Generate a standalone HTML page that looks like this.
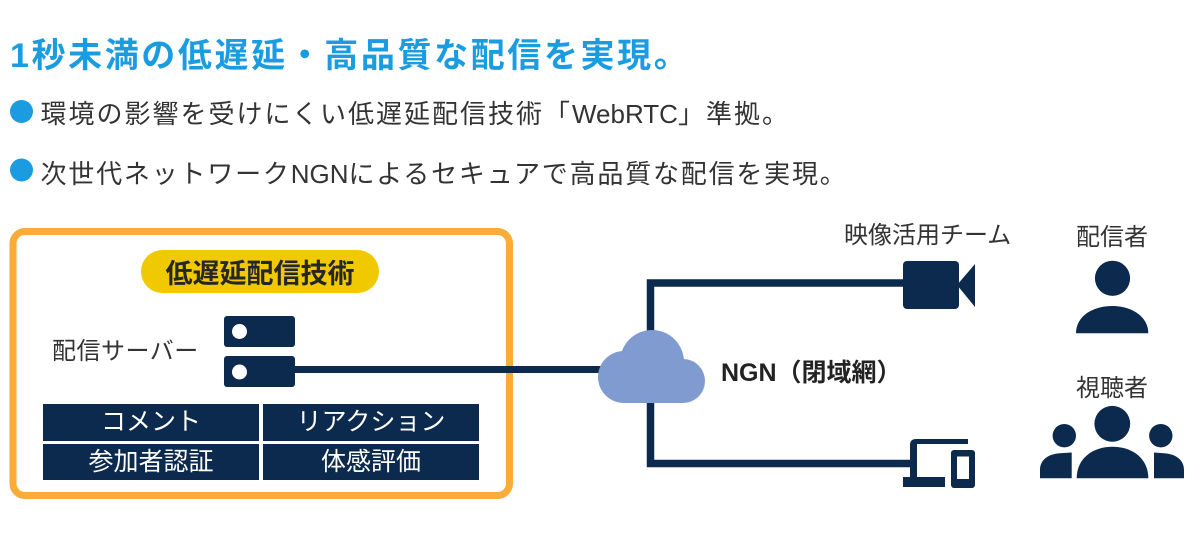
<!DOCTYPE html>
<html>
<head>
<meta charset="utf-8">
<style>
  html,body{margin:0;padding:0;background:#fff;}
  body{width:1200px;height:539px;position:relative;overflow:hidden;}
  .t{position:absolute;white-space:nowrap;font-family:"Liberation Sans","Noto Sans CJK JP",sans-serif;color:#333;}
  svg{position:absolute;left:0;top:0;}
</style>
</head>
<body>
<svg width="1200" height="539" viewBox="0 0 1200 539">
  <!-- bullets -->
  <circle cx="21.5" cy="111.5" r="11.5" fill="#1b9ce0"/>
  <circle cx="21.5" cy="170" r="11.5" fill="#1b9ce0"/>

  <!-- orange box -->
  <rect x="13" y="231.5" width="496.5" height="264" rx="12" ry="12" fill="none" stroke="#fbab37" stroke-width="7"/>
  <!-- yellow pill -->
  <rect x="141" y="250" width="238" height="43" rx="21.5" ry="21.5" fill="#f1c900"/>

  <!-- server -->
  <rect x="224" y="316" width="71" height="31" rx="3" fill="#0c2a4d"/>
  <rect x="224" y="356" width="71" height="31" rx="3" fill="#0c2a4d"/>
  <circle cx="239.5" cy="331.5" r="7.5" fill="#fff"/>
  <circle cx="239.5" cy="372" r="7.5" fill="#fff"/>

  <!-- grid -->
  <rect x="43" y="404" width="216" height="37" fill="#0c2a4d"/>
  <rect x="263" y="404" width="216" height="37" fill="#0c2a4d"/>
  <rect x="43" y="444" width="216" height="36" fill="#0c2a4d"/>
  <rect x="263" y="444" width="216" height="36" fill="#0c2a4d"/>

  <!-- connectors -->
  <line x1="294" y1="369.5" x2="620" y2="369.5" stroke="#0c2a4d" stroke-width="7"/>
  <path d="M905 283 H650.5 V463.5 H913" fill="none" stroke="#0c2a4d" stroke-width="7.5" stroke-linejoin="miter"/>

  <!-- cloud -->
  <g fill="#7f9bcf">
    <circle cx="652" cy="362" r="32"/>
    <circle cx="624" cy="377" r="26"/>
    <circle cx="683" cy="381" r="22"/>
    <rect x="624" y="360" width="59" height="43"/>
  </g>

  <!-- camera -->
  <rect x="903" y="261" width="56" height="48" rx="4" fill="#0c2a4d"/>
  <polygon points="957,285 975,264 975,307" fill="#0c2a4d"/>

  <!-- devices -->
  <path d="M910 487 V445 Q910 439 916 439 H968 V444 H917 V487 Z" fill="#0c2a4d"/>
  <rect x="903" y="477" width="42" height="10" fill="#0c2a4d"/>
  <rect x="951" y="450" width="24" height="38" rx="3" fill="#0c2a4d"/>
  <rect x="957" y="456.5" width="12" height="22.5" fill="#fff"/>

  <!-- single person -->
  <g fill="#0c2a4d">
    <circle cx="1112.5" cy="278.3" r="17.6"/>
    <path d="M1076 333.3 C1076 316 1093 306 1112.2 306 C1131 306 1148.3 316 1148.3 333.3 Z"/>
  </g>

  <!-- group -->
  <g fill="#0c2a4d">
    <circle cx="1112.3" cy="423.8" r="17.9"/>
    <path d="M1076.7 478.3 C1076.7 458 1093 446.7 1112.5 446.7 C1132 446.7 1148.3 458 1148.3 478.3 Z"/>
    <circle cx="1064.3" cy="435.7" r="11.7"/>
    <circle cx="1160.8" cy="435.7" r="11.7"/>
    <path d="M1040 478.3 V470 C1040 460 1048 454 1060 453.3 L1071.7 452.5 V478.3 Z"/>
    <path d="M1184 478.3 V470 C1184 460 1176 454 1164 453.3 L1154 452.5 V478.3 Z"/>
  </g>
</svg>

<!-- title -->
<div class="t" style="left:10px;top:39.2px;font-size:34px;line-height:34px;letter-spacing:2.6px;font-weight:bold;color:#1b9ce0;">1秒未満の低遅延・高品質な配信を実現。</div>

<!-- bullet lines -->
<div class="t" style="left:40.5px;top:101px;font-size:26px;line-height:26px;letter-spacing:2.0px;">環境の影響を受けにくい低遅延配信技術「<span style="letter-spacing:0">WebRTC</span>」準拠。</div>
<div class="t" style="left:40.5px;top:160.5px;font-size:26px;line-height:26px;letter-spacing:1.8px;">次世代ネットワーク<span style="letter-spacing:0">NGN</span>によるセキュアで高品質な配信を実現。</div>

<!-- pill text -->
<div class="t" style="left:141px;top:260.6px;width:238px;text-align:center;font-size:27px;line-height:27px;font-weight:bold;color:#262626;">低遅延配信技術</div>

<!-- server label -->
<div class="t" style="left:52px;top:339.7px;font-size:24px;line-height:24px;letter-spacing:0.5px;">配信サーバー</div>

<!-- grid labels -->
<div class="t" style="left:43px;top:404px;width:216px;height:37px;line-height:37px;text-align:center;font-size:25px;color:#fff;">コメント</div>
<div class="t" style="left:263px;top:404px;width:216px;height:37px;line-height:37px;text-align:center;font-size:25px;color:#fff;">リアクション</div>
<div class="t" style="left:43px;top:444px;width:216px;height:36px;line-height:36px;text-align:center;font-size:25px;color:#fff;">参加者認証</div>
<div class="t" style="left:263px;top:444px;width:216px;height:36px;line-height:36px;text-align:center;font-size:25px;color:#fff;">体感評価</div>

<!-- NGN label -->
<div class="t" style="left:721px;top:361px;font-size:25px;line-height:25px;font-weight:bold;color:#222;">NGN（閉域網）</div>

<!-- right labels -->
<div class="t" style="left:844px;top:224.2px;font-size:24px;line-height:24px;">映像活用チーム</div>
<div class="t" style="left:1076px;top:226px;font-size:24px;line-height:24px;">配信者</div>
<div class="t" style="left:1076px;top:377px;font-size:24px;line-height:24px;">視聴者</div>
</body>
</html>
